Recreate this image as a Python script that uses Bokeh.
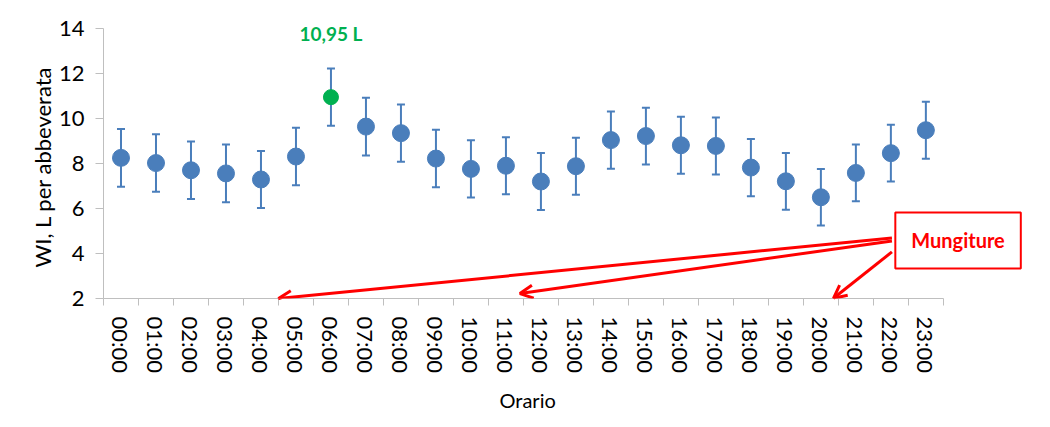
from bokeh.plotting import figure
from bokeh.models import (ColumnDataSource, Whisker, TeeHead, FixedTicker, Label,
                          Arrow, OpenHead, Title)
from bokeh.embed import file_html
from bokeh.resources import INLINE

hours = ["00:00", "01:00", "02:00", "03:00", "04:00", "05:00", "06:00", "07:00",
         "08:00", "09:00", "10:00", "11:00", "12:00", "13:00", "14:00", "15:00",
         "16:00", "17:00", "18:00", "19:00", "20:00", "21:00", "22:00", "23:00"]
wi_mean = [8.25, 8.02, 7.70, 7.56, 7.29, 8.31, 10.95, 9.64, 9.35, 8.22, 7.76, 7.90,
           7.20, 7.88, 9.04, 9.22, 8.81, 8.78, 7.82, 7.21, 6.50, 7.58, 8.46, 9.48]
wi_err = [1.28, 1.28, 1.28, 1.28, 1.27, 1.28, 1.27, 1.28, 1.27, 1.28, 1.27, 1.27,
          1.27, 1.27, 1.27, 1.26, 1.27, 1.27, 1.27, 1.26, 1.26, 1.26, 1.26, 1.27]
peak_label = "10,95 L"
peak_hour = "06:00"
milking_label = "Mungiture"
y_ticks = [2, 4, 6, 8, 10, 12, 14]

FONT = "Lato"
BLUE = "#4a7ebb"
GREEN = "#00b050"
RED = "#ff0000"
GREY = "#bfbfbf"

xc = [i + 0.5 for i in range(len(hours))]
is_peak = [h == peak_hour for h in hours]
src = ColumnDataSource(dict(
    x=[x for x, pk in zip(xc, is_peak) if not pk],
    y=[v for v, pk in zip(wi_mean, is_peak) if not pk],
))
src_peak = ColumnDataSource(dict(
    x=[x for x, pk in zip(xc, is_peak) if pk],
    y=[v for v, pk in zip(wi_mean, is_peak) if pk],
))
src_err = ColumnDataSource(dict(
    x=xc,
    upper=[m + e for m, e in zip(wi_mean, wi_err)],
    lower=[m - e for m, e in zip(wi_mean, wi_err)],
))

p = figure(frame_width=927, frame_height=279, x_range=(0, 26.49), y_range=(2, 14.4),
           output_backend="svg", toolbar_location=None,
           min_border_left=103, min_border_right=0, min_border_top=19,
           min_border_bottom=10)
p.outline_line_color = None
p.xgrid.visible = False
p.ygrid.visible = False
p.background_fill_color = "white"
p.border_fill_color = "white"

# error bars
w = Whisker(source=src_err, base="x", upper="upper", lower="lower",
            line_color=BLUE, line_width=2,
            upper_head=TeeHead(size=8, line_color=BLUE, line_width=2),
            lower_head=TeeHead(size=8, line_color=BLUE, line_width=2))
p.add_layout(w)

p.scatter("x", "y", source=src, size=17, color=BLUE)
p.scatter("x", "y", source=src_peak, size=15, color=GREEN)

# x axis
xa = p.xaxis[0]
xa.bounds = (0, len(hours))
xa.ticker = FixedTicker(ticks=xc, minor_ticks=list(range(len(hours) + 1)))
xa.major_label_overrides = {x: h for x, h in zip(xc, hours)}
xa.major_label_orientation = "vertical"
xa.major_tick_out = 0
xa.major_tick_in = 0
xa.minor_tick_out = 7
xa.minor_tick_in = 0
xa.minor_tick_line_color = GREY
xa.axis_line_color = GREY
xa.major_label_text_font = FONT
xa.major_label_text_font_size = "22px"
xa.major_label_text_color = "black"
xa.major_label_standoff = 11

# y axis
ya = p.yaxis[0]
ya.ticker = FixedTicker(ticks=y_ticks)
ya.bounds = (2, 14)
ya.major_tick_out = 8
ya.major_tick_in = 0
ya.minor_tick_out = 0
ya.minor_tick_in = 0
ya.major_tick_line_color = GREY
ya.axis_line_color = GREY
ya.major_label_text_font = FONT
ya.major_label_text_font_size = "22px"
ya.major_label_text_color = "black"
ya.major_label_standoff = 11

# axis titles (positioned on the 0-24 axis span rather than the whole frame)
p.add_layout(Title(text="Orario", align="left", offset=396, standoff=18,
                   text_font=FONT, text_font_size="20px",
                   text_font_style="normal", text_color="black"), "below")
p.add_layout(Title(text="WI, L per abbeverata", align="left", offset=31,
                   standoff=0, text_font=FONT, text_font_size="22px",
                   text_font_style="normal", text_color="black"), "left")

# peak label
pk_x = xc[hours.index(peak_hour)]
p.add_layout(Label(x=pk_x, y=13.8, text=peak_label, text_color=GREEN,
                   text_font=FONT, text_font_style="bold", text_font_size="19px",
                   text_align="center", text_baseline="middle"))

# milking arrows
starts = [(22.53, 4.69), (22.53, 4.56), (22.53, 4.07)]
ends = [(5.0, 2.0), (11.9, 2.22), (20.86, 2.01)]
for (x0, y0), (x1, y1) in zip(starts, ends):
    p.add_layout(Arrow(x_start=x0, y_start=y0, x_end=x1, y_end=y1,
                       line_color=RED, line_width=3,
                       end=OpenHead(size=13, line_color=RED, line_width=3)))

p.add_layout(Label(x=24.42, y=4.58, text=milking_label, text_color=RED,
                   text_font=FONT, text_font_style="bold", text_font_size="20px",
                   text_align="center", text_baseline="middle",
                   background_fill_color="white", border_line_color=RED,
                   border_line_width=2, padding=16))

open("out.html", "w").write(file_html(p, INLINE))
